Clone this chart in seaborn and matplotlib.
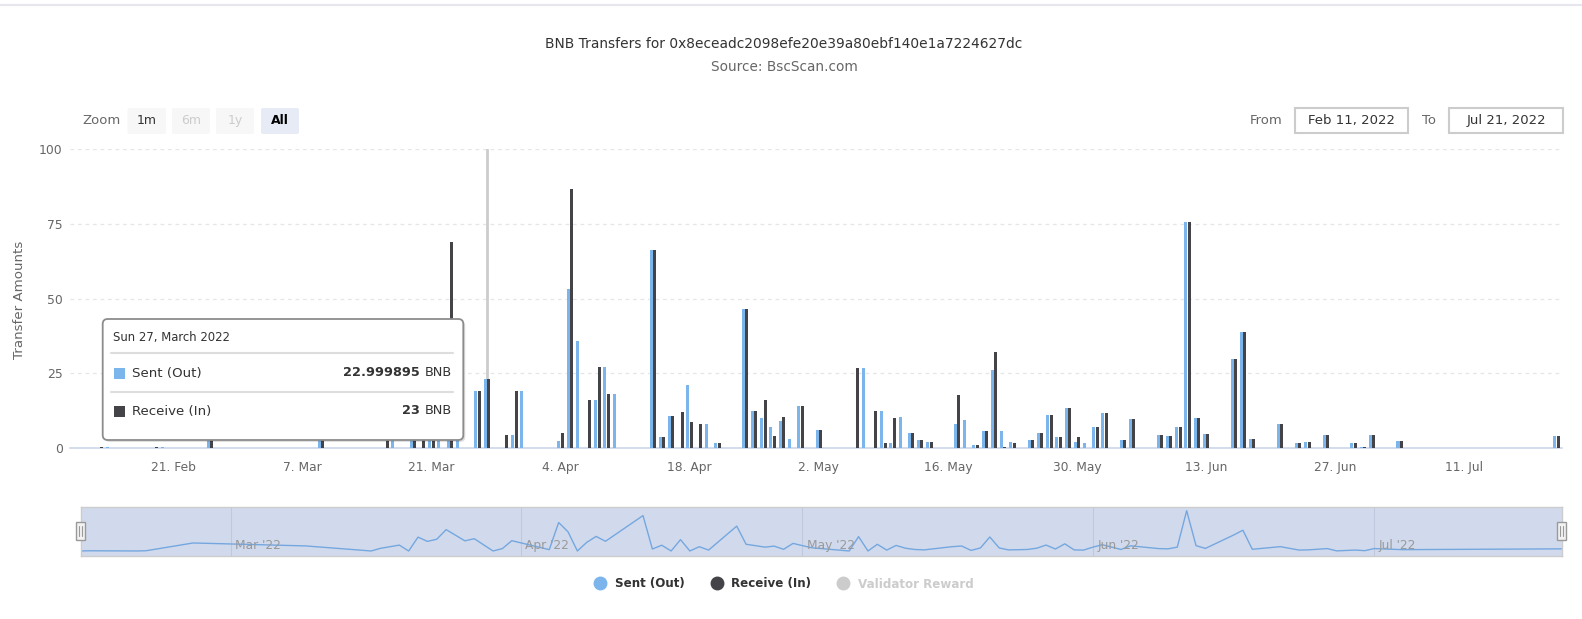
import matplotlib
matplotlib.use("Agg")
import matplotlib.pyplot as plt
from matplotlib.patches import FancyBboxPatch, Rectangle
from matplotlib.lines import Line2D
from matplotlib.transforms import IdentityTransform, blended_transform_factory
import numpy as np
import pandas as pd
import seaborn as sns

W, H = 1582, 619

# day offsets from 11 Feb 2022 that carry transfers
active_days = [2, 3, 8, 9, 14, 26, 33, 34, 36, 37, 38, 39, 40, 41, 43, 44,
               46, 47, 48, 52, 53, 54, 55, 56, 57, 58, 62, 63, 64, 65, 66,
               67, 68, 69, 72, 73, 74, 75, 76, 77, 78, 80, 84, 85, 86, 87,
               88, 89, 90, 91, 92, 95, 96, 97, 98, 99, 100, 101, 103, 104,
               105, 106, 107, 108, 109, 110, 111, 113, 114, 117, 118, 119,
               120, 121, 122, 125, 126, 127, 130, 132, 133, 135, 136, 138,
               139, 140, 143, 160]
sent_out = [0, 0.4, 0, 0.5, 15, 9.5, 0, 5, 11, 0, 26, 18, 22, 40, 19, 23,
            0, 4.5, 19.3, 2.5, 53.3, 35.9, 0, 16.2, 27.3, 18.2, 66.3, 3.7,
            10.8, 0, 21.2, 0, 8.0, 1.7, 46.6, 12.5, 10.0, 7.2, 9.1, 3.1,
            14.2, 6.0, 0, 26.9, 0, 12.5, 1.7, 10.4, 5.2, 2.8, 2.1, 8.1, 9.3,
            1.1, 5.7, 26.2, 5.7, 2.0, 2.8, 5.2, 11.1, 3.7, 13.4, 2.0, 1.7,
            7.2, 11.7, 2.8, 9.7, 4.5, 4.0, 7.2, 75.5, 10.0, 4.8, 29.8, 38.9,
            3.2, 8.1, 1.7, 2.1, 4.5, 0.2, 1.7, 0.6, 4.5, 2.5, 4.0]
receive_in = [0.4, 0, 0.4, 0, 15, 9.5, 5, 0, 9, 10, 12, 0, 69, 0, 19, 23,
              4.5, 19.3, 0, 5.2, 86.7, 0, 16.2, 27.3, 18.2, 0, 66.3, 3.7,
              10.8, 12.0, 8.9, 8.0, 0, 1.7, 46.6, 12.5, 16.2, 4.1, 10.5, 0,
              14.2, 6.0, 26.9, 0, 12.5, 1.7, 10.0, 0.2, 5.2, 2.8, 2.1, 17.7,
              0, 1.1, 5.7, 32.2, 0.6, 1.7, 2.8, 5.2, 11.1, 3.7, 13.4, 3.7, 0,
              7.2, 11.7, 2.8, 9.7, 4.5, 4.0, 7.2, 75.5, 10.0, 4.8, 29.8, 38.9,
              3.2, 8.1, 1.7, 2.1, 4.5, 0.2, 1.7, 0.6, 4.5, 2.5, 4.0]

n_days = 161
tick_days = [10, 24, 38, 52, 66, 80, 94, 108, 122, 136, 150]
tick_labels = ["21. Feb", "7. Mar", "21. Mar", "4. Apr", "18. Apr", "2. May",
               "16. May", "30. May", "13. Jun", "27. Jun", "11. Jul"]
nav_days = [18, 49, 79, 110, 140]
nav_labels = ["Mar '22", "Apr '22", "May '22", "Jun '22", "Jul '22"]
series_names = ["Sent (Out)", "Receive (In)"]
colors = ["#7cb5ec", "#434348"]

sent_full = np.zeros(n_days)
recv_full = np.zeros(n_days)
sent_full[active_days] = sent_out
recv_full[active_days] = receive_in
df = pd.DataFrame({
    "day": np.tile(np.arange(n_days), 2),
    "series": [series_names[0]] * n_days + [series_names[1]] * n_days,
    "amount": np.concatenate([sent_full, recv_full]),
})

sns.set_theme(style="white")
plt.rcParams["font.family"] = ["DejaVu Sans"]

fig = plt.figure(figsize=(W / 100, H / 100), dpi=100)
fig.patch.set_facecolor("white")
PX = IdentityTransform()


def fy(y):
    return H - y


# main chart
ax = fig.add_axes([70 / W, (H - 448.3) / H, 1492 / W, 299.3 / H])
ax.set_axisbelow(True)
sns.barplot(data=df, x="day", y="amount", hue="series", hue_order=series_names,
            palette=colors, saturation=1, width=0.74, gap=0.12, errorbar=None,
            linewidth=0, legend=False, ax=ax, zorder=3)
ax.axvline(44, color="#cccccc", lw=2, zorder=2)
ax.set_xlim(-1.2, 160.6)
ax.set_ylim(0, 100)
ax.set_yticks([0, 25, 50, 75, 100])
ax.yaxis.grid(True, color="#e6e6e6", linestyle=(0, (3, 3)), lw=0.9)
ax.xaxis.grid(False)
for s in ["top", "right", "left"]:
    ax.spines[s].set_visible(False)
ax.spines["bottom"].set_color("#ccd6eb")
ax.spines["bottom"].set_linewidth(1.2)
ax.set_xticks(tick_days, tick_labels)
ax.tick_params(axis="x", colors="#ccd6eb", length=7, width=1, pad=2,
               labelcolor="#666666", labelsize=8.8)
ax.tick_params(axis="y", length=0, pad=5.3, labelcolor="#666666", labelsize=8.9)
ax.set_xlabel("")
ax.set_ylabel("Transfer Amounts", color="#666666", fontsize=9.6)
ax.yaxis.set_label_coords(-0.0298, 0.495)

# title
fig.text(784 / W, 1 - 44.3 / H, "BNB Transfers for 0x8eceadc2098efe20e39a80ebf140e1a7224627dc",
         ha="center", va="center", fontsize=9.9, color="#333333")
fig.text(784 / W, 1 - 67.3 / H, "Source: BscScan.com",
         ha="center", va="center", fontsize=9.8, color="#666666")
fig.add_artist(Line2D([0, W], [fy(5), fy(5)], transform=PX, color="#e6e6ef", lw=1.5))

# range selector
fig.text(82, fy(121), "Zoom", transform=PX, ha="left", va="center",
         fontsize=9.5, color="#666666")
buttons = [("1m", 127.5, 166, "#f7f7f7", "#333333", "normal"),
           ("6m", 172, 210, "#f7f7f7", "#cccccc", "normal"),
           ("1y", 216, 254, "#f7f7f7", "#cccccc", "normal"),
           ("All", 261, 299, "#e6ebf5", "#000000", "bold")]
for lab, x0, x1, fc, tc, fw in buttons:
    fig.add_artist(FancyBboxPatch((x0, fy(134)), x1 - x0, 26, transform=PX,
                                  boxstyle="round,pad=0,rounding_size=2",
                                  fc=fc, ec="none"))
    fig.text((x0 + x1) / 2, fy(120.5), lab, transform=PX, ha="center",
             va="center", fontsize=9, color=tc, fontweight=fw)

for lab, tx, bx0, bx1, val in [("From", 1250, 1295, 1408, "Feb 11, 2022"),
                               ("To", 1422, 1449, 1563, "Jul 21, 2022")]:
    fig.text(tx, fy(120.5), lab, transform=PX, ha="left", va="center",
             fontsize=9.5, color="#666666")
    fig.add_artist(Rectangle((bx0, fy(133.3)), bx1 - bx0, 25.6, transform=PX,
                             fc="white", ec="#cccccc", lw=1.5))
    fig.text((bx0 + bx1) / 2, fy(120.5), val, transform=PX, ha="center",
             va="center", fontsize=9.5, color="#333333")

# tooltip
tx0, tx1, ty0, ty1 = 102.7, 463.3, 319, 440
fig.add_artist(FancyBboxPatch((tx0 + 2, fy(ty1) - 2), tx1 - tx0, ty1 - ty0,
                              transform=PX, boxstyle="round,pad=0,rounding_size=5",
                              fc="#000000", ec="none", alpha=0.12, zorder=9))
fig.add_artist(FancyBboxPatch((tx0, fy(ty1)), tx1 - tx0, ty1 - ty0, transform=PX,
                              boxstyle="round,pad=0,rounding_size=5",
                              fc="white", ec="#8c8c8c", lw=1.3, zorder=10))
fig.text(113, fy(337.7), "Sun 27, March 2022", transform=PX, ha="left",
         va="center", fontsize=8.4, color="#333333", zorder=11)
for yy in [353.3, 391.7]:
    fig.add_artist(Line2D([111, 453.3], [fy(yy), fy(yy)], transform=PX,
                          color="#dddddd", lw=1.5, zorder=11))
for name, col, yy, val in [(series_names[0], colors[0], 373.5, "22.999895"),
                           (series_names[1], colors[1], 411.5, "23")]:
    fig.add_artist(Rectangle((114, fy(yy) - 5.3), 10.6, 10.6, transform=PX,
                             fc=col, ec="none", zorder=11))
    fig.text(131.7, fy(yy), name, transform=PX, ha="left", va="center",
             fontsize=9.6, color="#333333", zorder=11)
    fig.text(419.5, fy(yy - 1.5), val, transform=PX, ha="right", va="center",
             fontsize=9.3, color="#333333", fontweight="bold", zorder=11)
    fig.text(452.3, fy(yy - 1.5), "BNB", transform=PX, ha="right", va="center",
             fontsize=9.3, color="#333333", zorder=11)

# navigator
nav = fig.add_axes([80.6 / W, (H - 556) / H, 1481 / W, 49 / H])
nav.set_facecolor("#d1daed")
nav_df = pd.DataFrame({"day": active_days, "sent": sent_out})
sns.lineplot(data=nav_df, x="day", y="sent", color="#75a7df", lw=1, ax=nav)
nav.set_xlim(2, 160)
nav.set_ylim(-9.4, 82.4)
nav.set_xticks([])
nav.set_yticks([])
nav.set_xlabel("")
nav.set_ylabel("")
for s in nav.spines.values():
    s.set_color("#cccccc")
    s.set_linewidth(1)
tr = blended_transform_factory(nav.transData, nav.transAxes)
for d, lab in zip(nav_days, nav_labels):
    nav.axvline(d, color="#bfc8dc", lw=0.8, zorder=0)
    nav.text(d + 0.45, 0.22, lab, transform=tr, ha="left", va="center",
             fontsize=8.8, color="#999999")
for cx in [80.6, 1561.6]:
    fig.add_artist(Rectangle((cx - 4.5, fy(540)), 9, 18.3, transform=PX,
                             fc="#f2f2f2", ec="#999999", lw=1, zorder=12))
    for dx in [-1.3, 1.3]:
        fig.add_artist(Line2D([cx + dx, cx + dx], [fy(536), fy(526)], transform=PX,
                              color="#999999", lw=0.8, zorder=13))

# legend
handles = [Line2D([], [], ls="", marker="o", markersize=9, color=c)
           for c in colors + ["#cccccc"]]
leg = fig.legend(handles, series_names + ["Validator Reward"], loc="center",
                 bbox_to_anchor=(784 / W, 1 - 584 / H), ncol=3, frameon=False,
                 handlelength=1.0, handletextpad=0.7, columnspacing=2.2,
                 prop={"weight": "bold", "size": 8.6})
for t, c in zip(leg.get_texts(), ["#333333", "#333333", "#cccccc"]):
    t.set_color(c)

fig.savefig("out.png", dpi=100, facecolor="white")
